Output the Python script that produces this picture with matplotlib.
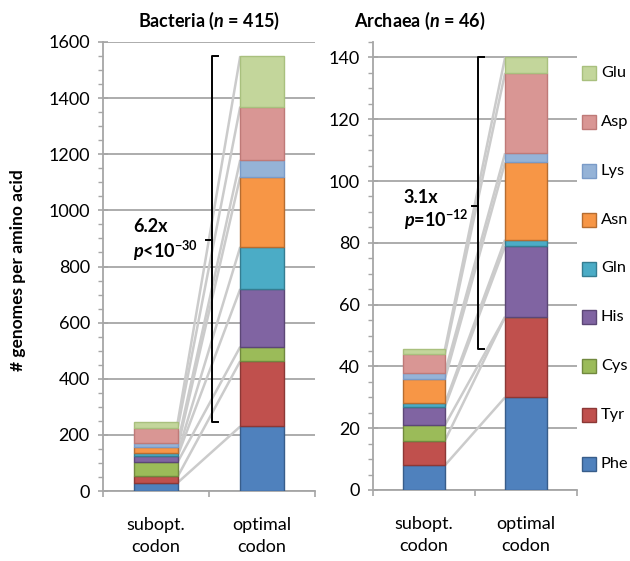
import matplotlib.pyplot as plt
from matplotlib.patches import Rectangle
from matplotlib.ticker import MultipleLocator
import numpy as np

plt.rcParams['font.family'] = ['Lato', 'DejaVu Sans']
plt.rcParams['mathtext.fontset'] = 'custom'
plt.rcParams['mathtext.rm'] = 'Lato:bold'
plt.rcParams['mathtext.it'] = 'Lato:italic:bold'
plt.rcParams['mathtext.bf'] = 'Lato:bold'

# amino acids, bottom to top of each stack
aminos = ["Phe", "Tyr", "Cys", "His", "Gln", "Asn", "Lys", "Asp", "Glu"]
categories = ["subopt.\ncodon", "optimal\ncodon"]

bac_subopt = [30, 22, 52, 22, 10, 20, 14, 55, 20]
bac_opt = [230, 233, 51, 206, 150, 250, 60, 190, 180]
arc_subopt = [8, 8, 5, 6, 1, 8, 2, 6, 1.5]
arc_opt = [30, 26, 0, 23, 2, 25, 3, 26, 5]

fills = ["#4F81BD", "#C0504D", "#9BBB59", "#8064A2", "#4BACC6",
         "#F79646", "#95B3D7", "#D99694", "#C3D69B"]
edges = ["#385D8A", "#8C3836", "#71893F", "#5C4776", "#357D91",
         "#B66D31", "#7A9BC8", "#BF7A78", "#A9C07E"]

GRID = "#a6a6a6"
LINK = "#cbcbcb"
W = 0.41


def draw_stack(ax, subopt, opt):
    x = np.array([0, 1])
    bottoms = np.zeros(2)
    for i in range(len(aminos)):
        vals = np.array([subopt[i], opt[i]], dtype=float)
        ax.bar(x, vals, W, bottom=bottoms, color=fills[i], edgecolor=edges[i],
               lw=1.0, zorder=3)
        bottoms = bottoms + vals
        ax.plot([W / 2, 1 - W / 2], bottoms, color=LINK, lw=1.8, zorder=2,
                solid_capstyle='butt')


def style_axis(ax, ymax, major, minor):
    ax.set_xlim(-0.5, 1.5)
    ax.set_ylim(0, ymax)
    ax.yaxis.set_major_locator(MultipleLocator(major))
    ax.yaxis.set_minor_locator(MultipleLocator(minor))
    ax.set_axisbelow(True)
    ax.yaxis.grid(True, which='major', color=GRID, lw=1.3)
    for s in ['top', 'right']:
        ax.spines[s].set_visible(False)
    for s in ['left', 'bottom']:
        ax.spines[s].set_color(GRID)
        ax.spines[s].set_linewidth(1.3)
    ax.tick_params(axis='y', which='major', direction='inout', length=7,
                   color=GRID, width=1.2, labelsize=13, pad=6)
    ax.tick_params(axis='y', which='minor', direction='out', length=3.5,
                   color=GRID, width=1.0)
    ax.set_xticks([0, 1], categories)
    ax.set_xticks([-0.5, 0.5, 1.5], minor=True)
    ax.tick_params(axis='x', which='major', length=0, labelsize=13, pad=19)
    ax.tick_params(axis='x', which='minor', direction='out', length=4.5,
                   color=GRID, width=1.2)
    for lab in ax.get_xticklabels():
        lab.set_linespacing(1.45)


def bracket(ax, x, y0, y1, ymid, dx):
    ax.plot([x + dx, x, x, x + dx], [y1, y1, y0, y0], color='black', lw=1.4,
            zorder=5, solid_joinstyle='round')
    ax.plot([x, x - dx], [ymid, ymid], color='black', lw=1.4, zorder=5)


fig = plt.figure(figsize=(6.3, 5.61), dpi=100)
ax1 = fig.add_axes([103 / 630, 70 / 561, 212 / 630, 449 / 561])
ax2 = fig.add_axes([373 / 630, 71 / 561, 204 / 630, 448 / 561])

draw_stack(ax1, bac_subopt, bac_opt)
style_axis(ax1, 1600, 200, 50)
draw_stack(ax2, arc_subopt, arc_opt)
style_axis(ax2, 145, 20, 5)
ax2.set_yticks(np.arange(0, 141, 20))

ax1.set_title(r"Bacteria ($n$ = 415)", fontsize=13, fontweight='bold', pad=11)
ax2.set_title(r"Archaea ($n$ = 46)", fontsize=13, fontweight='bold', pad=11,
              x=0.23)

bracket(ax1, 0.528, sum(bac_subopt), sum(bac_opt), 895, 0.06)
ax1.text(-0.215, 941, "6.2x", fontsize=13, fontweight='bold', va='center')
ax1.text(-0.215, 855, r"$p$<10$^{-30}$", fontsize=13, fontweight='bold',
         va='center')

bracket(ax2, 0.53, sum(arc_subopt), sum(arc_opt), 92, 0.06)
ax2.text(-0.2, 94.6, "3.1x", fontsize=13, fontweight='bold', va='center')
ax2.text(-0.2, 87.3, r"$p$=10$^{-12}$", fontsize=13, fontweight='bold',
         va='center')

fig.text(18 / 630, 1 - 270 / 561, "# genomes per amino acid", rotation=90,
         fontsize=12.5, fontweight='bold', ha='center', va='center')

# legend, top entry is the last stack segment
ys = np.linspace(73, 464, len(aminos))
for i, name in enumerate(aminos[::-1]):
    j = len(aminos) - 1 - i
    y = 1 - ys[i] / 561
    fig.patches.append(Rectangle((582 / 630, y - 7 / 561), 14 / 630, 14 / 561,
                                 transform=fig.transFigure, facecolor=fills[j],
                                 edgecolor=edges[j], lw=1.0))
    fig.text(601 / 630, y, name, fontsize=11.8, va='center', ha='left')

fig.savefig("out.png", dpi=100)
